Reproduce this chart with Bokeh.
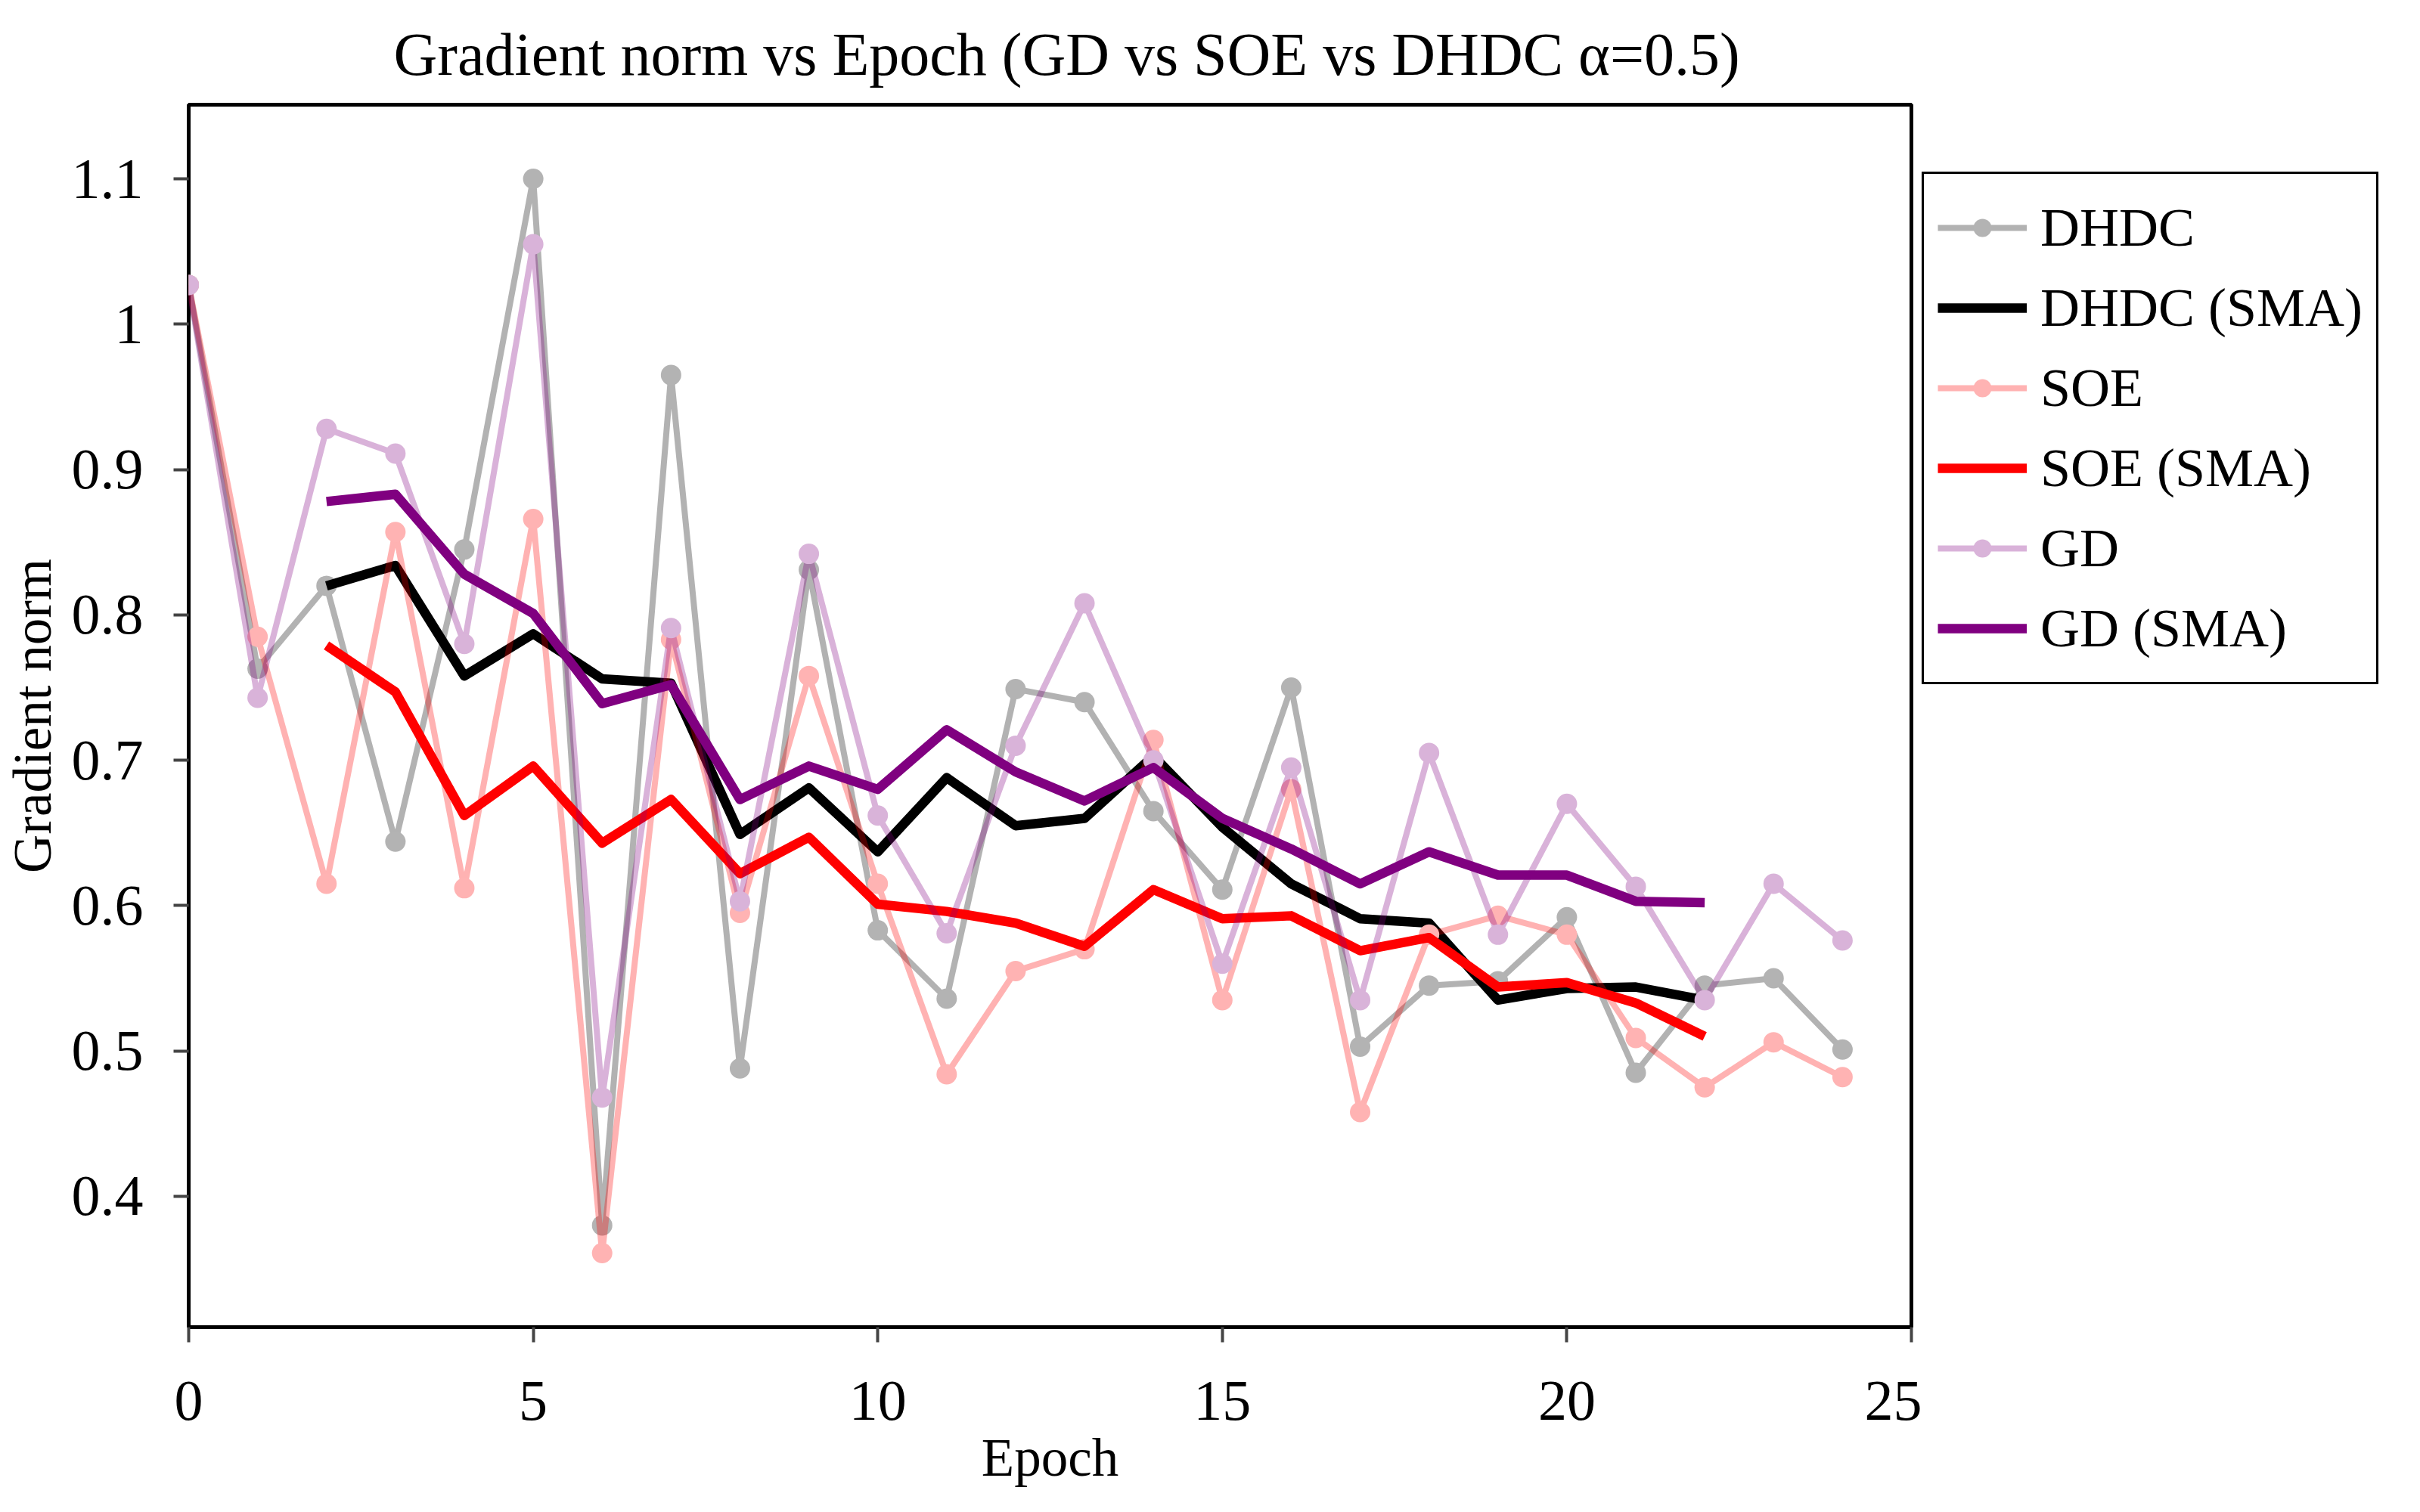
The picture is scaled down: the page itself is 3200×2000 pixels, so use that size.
from bokeh.plotting import figure
from bokeh.layouts import row
from bokeh.models import Range1d, FixedTicker, CustomJSTickFormatter, Legend, LegendItem
from bokeh.embed import file_html
from bokeh.resources import INLINE

# Gradient norm per epoch for the three optimisers
epochs = list(range(25))
dhdc = [1.027, 0.763, 0.820, 0.644, 0.845, 1.100, 0.380, 0.965, 0.488, 0.831,
        0.583, 0.536, 0.749, 0.740, 0.665, 0.611, 0.750, 0.503, 0.545, 0.548,
        0.592, 0.485, 0.545, 0.550, 0.501]
soe = [1.027, 0.785, 0.615, 0.857, 0.612, 0.866, 0.361, 0.783, 0.595, 0.758,
       0.615, 0.484, 0.555, 0.570, 0.714, 0.535, 0.680, 0.458, 0.580, 0.593,
       0.580, 0.509, 0.475, 0.506, 0.482]
gd = [1.027, 0.743, 0.928, 0.911, 0.780, 1.055, 0.468, 0.791, 0.603, 0.842,
      0.662, 0.581, 0.710, 0.808, 0.700, 0.560, 0.695, 0.535, 0.705, 0.580,
      0.670, 0.613, 0.535, 0.615, 0.576]

# 5-epoch simple moving averages (centred), epochs 2..22
sma_epochs = list(range(2, 23))
dhdc_sma = [0.820, 0.834, 0.758, 0.787, 0.756, 0.753, 0.649, 0.681, 0.637, 0.688,
            0.655, 0.660, 0.703, 0.654, 0.615, 0.591, 0.588, 0.535, 0.543, 0.544,
            0.535]
soe_sma = [0.779, 0.747, 0.662, 0.696, 0.643, 0.673, 0.622, 0.647, 0.601, 0.596,
           0.588, 0.572, 0.611, 0.591, 0.593, 0.569, 0.578, 0.544, 0.547, 0.533,
           0.510]
gd_sma = [0.878, 0.883, 0.828, 0.801, 0.739, 0.752, 0.673, 0.696, 0.680, 0.721,
          0.692, 0.672, 0.695, 0.660, 0.639, 0.615, 0.637, 0.621, 0.621, 0.603,
          0.602]

FONT = "Liberation Serif"
RAW_W = 8
SMA_W = 12.5
MK = 27

series = [
    ("DHDC", dhdc, dhdc_sma, "black", "#b3b3b3"),
    ("SOE", soe, soe_sma, "red", "#ffb3b3"),
    ("GD", gd, gd_sma, "purple", "#d9b3d9"),
]

# ---- main chart -------------------------------------------------------
p = figure(width=2541, height=2000, output_backend="svg", toolbar_location=None,
           x_range=Range1d(0, 25), y_range=Range1d(0.31, 1.151),
           min_border_left=249, min_border_right=14,
           min_border_top=138, min_border_bottom=245,
           title="Gradient norm vs Epoch (GD vs SOE vs DHDC α=0.5)")

p.background_fill_color = "white"
p.border_fill_color = "white"
p.xgrid.visible = False
p.ygrid.visible = False
p.outline_line_color = "black"
p.outline_line_width = 5
p.outline_line_alpha = 1.0

p.title.text_font = FONT
p.title.text_font_size = "80px"
p.title.text_font_style = "normal"
p.title.text_color = "black"
p.title.align = "left"
p.title.offset = 271
p.title.standoff = 46

for ax in (p.xaxis[0], p.yaxis[0]):
    ax.axis_line_color = None
    ax.major_tick_line_color = "#444444"
    ax.major_tick_line_width = 4
    ax.major_tick_out = 20
    ax.major_tick_in = 0
    ax.minor_tick_line_color = None
    ax.major_label_text_font = FONT
    ax.major_label_text_font_size = "76px"
    ax.major_label_text_color = "black"
    ax.axis_label_text_font = FONT
    ax.axis_label_text_font_size = "71px"
    ax.axis_label_text_font_style = "normal"
    ax.axis_label_text_color = "black"

p.xaxis.axis_label = "Epoch"
p.yaxis.axis_label = "Gradient norm"
p.xaxis.ticker = FixedTicker(ticks=[0, 5, 10, 15, 20, 25])
p.yaxis.ticker = FixedTicker(ticks=[0.4, 0.5, 0.6, 0.7, 0.8, 0.9, 1.0, 1.1])
p.yaxis.formatter = CustomJSTickFormatter(code="return String(Number(tick.toFixed(2)));")
p.xaxis.major_label_standoff = 52
p.yaxis.major_label_standoff = 40
p.xaxis.axis_label_standoff = 8
p.yaxis.axis_label_standoff = 10

for name, raw, sma, color, marker_color in series:
    p.line(epochs, raw, line_color=color, line_alpha=0.3, line_width=RAW_W,
           line_join="round")
    p.scatter(epochs, raw, size=MK, fill_color=marker_color, line_color=None)
    p.line(sma_epochs, sma, line_color=color, line_width=SMA_W, line_join="round")

# ---- legend panel to the right of the chart ---------------------------
lg = figure(width=659, height=2000, output_backend="svg", toolbar_location=None,
            x_range=Range1d(0, 1), y_range=Range1d(0, 1),
            x_axis_type=None, y_axis_type=None, min_border=0)
lg.outline_line_color = None
lg.xgrid.visible = False
lg.ygrid.visible = False
lg.background_fill_color = "white"
lg.border_fill_color = "white"

items = []
for name, raw, sma, color, marker_color in series:
    ln = lg.line([-5, -4], [-5, -4], line_color=color, line_alpha=0.3,
                 line_width=RAW_W)
    mk = lg.scatter([-5], [-5], size=MK, fill_color=marker_color, line_color=None)
    sm = lg.line([-5, -4], [-5, -4], line_color=color, line_width=SMA_W)
    items.append(LegendItem(label=name, renderers=[ln, mk]))
    items.append(LegendItem(label=f"{name} (SMA)", renderers=[sm]))

# the row aligns this panel's frame with the chart frame (y 138..1755)
legend = Legend(items=items, location=(0, 850), margin=0,
                border_line_color="black", border_line_width=3, border_line_alpha=1.0,
                background_fill_color="white", background_fill_alpha=1.0,
                label_text_font=FONT, label_text_font_size="72px",
                label_text_color="black",
                glyph_width=118, glyph_height=60, label_height=106,
                spacing=0, padding=18, label_standoff=18)
lg.add_layout(legend, "center")

layout = row(p, lg, spacing=0)
open("out.html", "w").write(file_html(layout, INLINE))
